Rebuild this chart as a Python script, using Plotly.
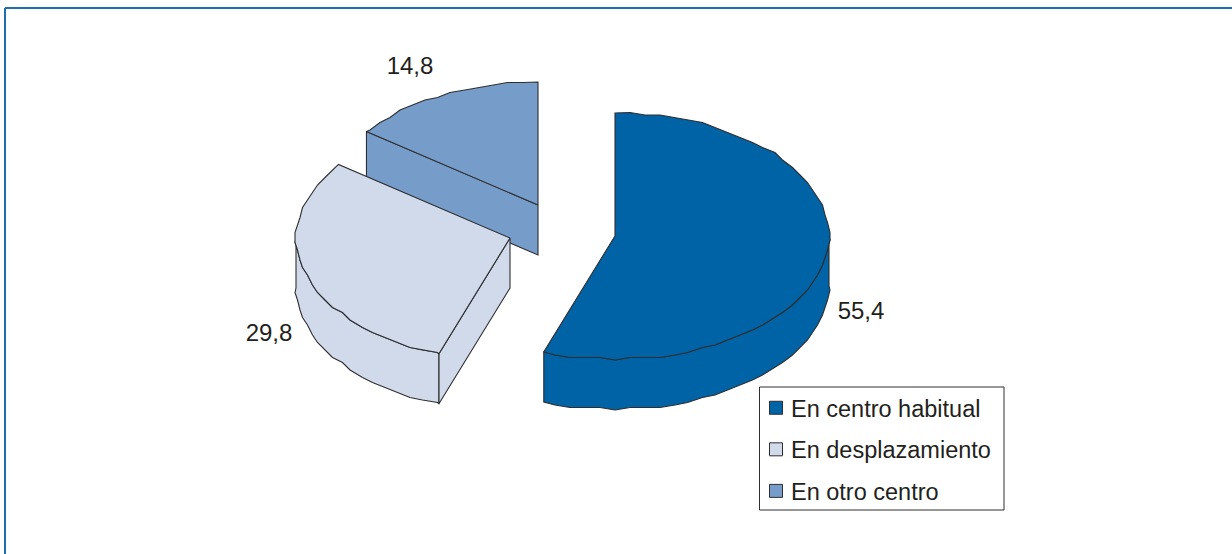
import numpy as np
import plotly.graph_objects as go

categories = ["En centro habitual", "En desplazamiento", "En otro centro"]
values = [55.4, 29.8, 14.8]
value_labels = ["55,4", "29,8", "14,8"]
colors = ["#0063a6", "#d0daea", "#769dc9"]

W, H = 1232, 554
RX, RY, DEPTH = 214, 123, 50
EDGE = "#2e2e30"
TEXT = "#231f20"
apexes = [(615, 236), (510, 238), (538, 205)]
label_pos = [(861, 313), (269, 335), (410, 68)]
STEP = 4   # coarse sampling of the rim, degrees
SNAP = 2.5 # rim wobble of the low-res original, px


def rim(apex, a0, a1, dy=0):
    inner = np.arange(np.ceil(a0 / STEP + 1e-6), np.floor(a1 / STEP - 1e-6) + 1) * STEP
    deg = np.concatenate([[a0], inner, [a1]])
    t = np.radians(deg)
    x = apex[0] + RX * np.sin(t)
    y = apex[1] - RY * np.cos(t)
    x[1:-1] = np.round(x[1:-1] / SNAP) * SNAP
    y[1:-1] = np.round(y[1:-1] / SNAP) * SNAP
    return x.tolist(), (y + dy).tolist()


fig = go.Figure()


def poly(xs, ys, color):
    fig.add_trace(go.Scatter(
        x=xs + xs[:1], y=ys + ys[:1], mode="lines", fill="toself", fillcolor=color,
        line=dict(color=EDGE, width=1.1), hoverinfo="skip", showlegend=False))


# slices drawn back to front
bounds = np.cumsum([0] + values) / sum(values) * 360
for i in [2, 1, 0]:
    a0, a1 = bounds[i], bounds[i + 1]
    ax, ay = apexes[i]
    c = colors[i]
    # start-edge wall
    if np.sin(np.radians(a0)) < -1e-6:
        rx0 = ax + RX * np.sin(np.radians(a0))
        ry0 = ay - RY * np.cos(np.radians(a0))
        poly([ax, rx0, rx0, ax], [ay, ry0, ry0 + DEPTH, ay + DEPTH], c)
    # outer wall, front half only
    lo, hi = max(a0, 90), min(a1, 270)
    if hi > lo:
        xt, yt = rim((ax, ay), lo, hi)
        xb, yb = rim((ax, ay), lo, hi, DEPTH)
        poly(xt + xb[::-1], yt + yb[::-1], c)
    # top face
    xt, yt = rim((ax, ay), a0, a1)
    poly([ax] + xt, [ay] + yt, c)

# value labels
for (lx, ly), t in zip(label_pos, value_labels):
    fig.add_trace(go.Scatter(
        x=[lx], y=[ly], mode="text", text=[t], textposition="middle center",
        textfont=dict(family="Liberation Sans", size=24, color=TEXT),
        hoverinfo="skip", showlegend=False))

# legend entries
for name, c in zip(categories, colors):
    fig.add_trace(go.Scatter(
        x=[None], y=[None], mode="markers", name=name, legendgroup=name,
        marker=dict(symbol="square", size=13, color=c, line=dict(color=EDGE, width=1))))

# page frame and legend box
frame = dict(color="#1c70ad", width=2)
fig.add_shape(type="line", xref="x", yref="y", x0=5, x1=W, y0=8, y1=8, line=frame)
fig.add_shape(type="line", xref="x", yref="y", x0=5, x1=5, y0=8, y1=H, line=frame)
fig.add_shape(type="rect", xref="x", yref="y", x0=759.5, x1=1004, y0=387, y1=510,
              fillcolor="white", line=dict(color=EDGE, width=1), layer="above")

fig.update_layout(
    width=W, height=H, margin=dict(l=0, r=0, t=0, b=0),
    paper_bgcolor="white", plot_bgcolor="white",
    xaxis=dict(range=[0, W], visible=False, fixedrange=True),
    yaxis=dict(range=[H, 0], visible=False, fixedrange=True),
    legend=dict(x=751 / W, y=1 - 386 / H, xanchor="left", yanchor="top",
                bgcolor="rgba(0,0,0,0)", borderwidth=0,
                tracegroupgap=8, traceorder="grouped",
                font=dict(family="Liberation Sans", size=23.5, color=TEXT)),
)
post = """
document.body.style.margin='0';document.body.style.overflow='hidden';
document.querySelectorAll('.legend .legendsymbols').forEach(function(s){s.setAttribute('transform','translate(5,0)');});
"""
fig.write_html("out.html", post_script=post, config={"displayModeBar": False})
